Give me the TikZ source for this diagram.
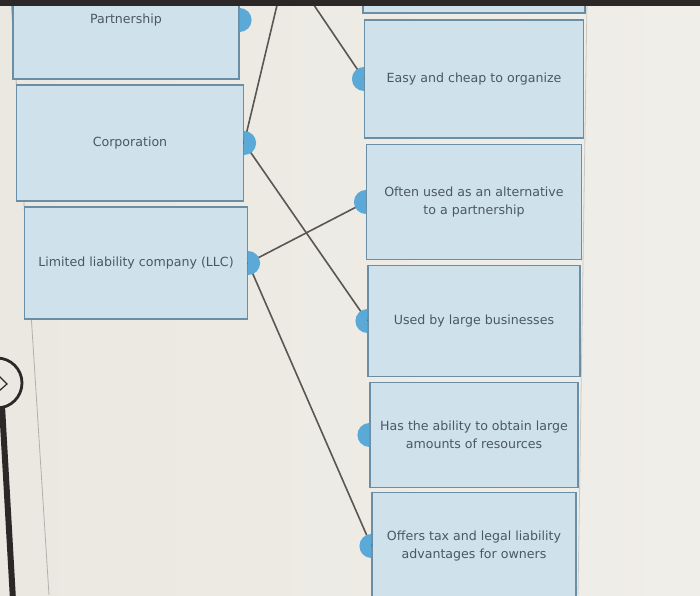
\documentclass[tikz,border=0pt]{standalone}
\usepackage{fontspec}
\setmainfont{DejaVu Sans}
\usepackage{xcolor}
\usepackage{tikz}
\usetikzlibrary{positioning}
\definecolor{paper}{HTML}{ebe8e1}
\definecolor{paperlt}{HTML}{f0eee9}
\definecolor{cardfill}{HTML}{cfe1ea}
\definecolor{cardedge}{HTML}{6a8ea6}
\definecolor{tabblue}{HTML}{5aa9d6}
\definecolor{wire}{HTML}{5a5651}
\definecolor{ink}{HTML}{4b5862}
\definecolor{bezel}{HTML}{2b2827}
\definecolor{rule}{HTML}{b3b0ab}

\tikzset{
  card/.style={draw=cardedge,fill=cardfill,line width=1.2pt,align=center,
               inner sep=0pt,text=ink,font=\fontsize{12.6}{18}\selectfont},
  wire/.style={draw=wire,line width=1.6pt},
}

\begin{document}
\begin{tikzpicture}[x=1pt,y=1pt]
    \useasboundingbox (0,0) rectangle (700,-595);
    \clip (0,0) rectangle (700,-595);
    \shade[left color=paper,right color=paperlt] (0,0) rectangle (700,-595);
    % panel borders
    \draw[rule,line width=0.8pt] (11,0) -- (49,-595);
    \draw[rule!70,line width=0.8pt] (587,0) -- (578,-595);

    % left column
    \node[card,minimum width=226,minimum height=118] (part) at (126,-20) {Partnership};
    \node[card,minimum width=227,minimum height=116] (corp) at (130,-143) {Corporation};
    \node[card,minimum width=223,minimum height=112] (llc) at (136,-263)
        {Limited liability company (LLC)};

    % right column
    \node[card,minimum width=222,minimum height=118] (hidden) at (474,46) {};
    \node[card,minimum width=219,minimum height=118] (easy) at (474,-79)
        {Easy and cheap to organize};
    \node[card,minimum width=215,minimum height=115] (often) at (474,-202)
        {Often used as an alternative\\to a partnership};
    \node[card,minimum width=212,minimum height=111] (large) at (474,-321)
        {Used by large businesses};
    \node[card,minimum width=208,minimum height=105] (ability) at (474,-435)
        {Has the ability to obtain large\\amounts of resources};
    \node[card,minimum width=204,minimum height=107] (taxes) at (474,-546)
        {Offers tax and legal liability\\advantages for owners};

    % wires
    \coordinate (offA) at (283,20);
    \coordinate (offB) at (297,20);
    \draw[wire] (offA) -- (corp.east);
    \draw[wire] (offB) -- (easy.west);
    \draw[wire] (corp.east) -- (large.west);
    \draw[wire] (llc.east) -- (often.west);
    \draw[wire] (llc.east) -- (taxes.west);

    % tabs
    \fill[tabblue] ([yshift=12]part.east) arc[start angle=90,end angle=-90,radius=12];
    \fill[tabblue] ([yshift=12]corp.east) arc[start angle=90,end angle=-90,radius=12];
    \fill[tabblue] ([yshift=12]llc.east) arc[start angle=90,end angle=-90,radius=12];
    \fill[tabblue] ([yshift=12]easy.west) arc[start angle=90,end angle=270,radius=12];
    \fill[tabblue] ([yshift=12]often.west) arc[start angle=90,end angle=270,radius=12];
    \fill[tabblue] ([yshift=12]large.west) arc[start angle=90,end angle=270,radius=12];
    \fill[tabblue] ([yshift=12]ability.west) arc[start angle=90,end angle=270,radius=12];
    \fill[tabblue] ([yshift=12]taxes.west) arc[start angle=90,end angle=270,radius=12];

    % screen bezel
    \fill[bezel] (0,0) rectangle (700,-6);
    \draw[bezel,line width=6pt] (2,-406) -- (13,-600);
    \draw[bezel,line width=2.8pt] (-3,-383) circle[radius=25];
    \draw[bezel,line width=1.2pt] (-1,-376) -- (7,-384) -- (-1,-391);
\end{tikzpicture}
\end{document}
